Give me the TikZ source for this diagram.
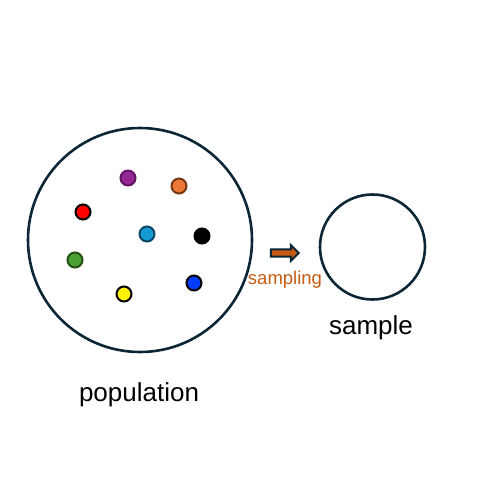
\documentclass[tikz,border=0pt]{standalone}
\usepackage{fontspec}
\setmainfont{Liberation Sans}
\usetikzlibrary{shapes.arrows}
\definecolor{navy}{RGB}{12,38,54}
\definecolor{rust}{RGB}{197,90,17}
\tikzset{
	dot/.style={circle,draw,line width=2pt,minimum size=15pt,inner sep=0pt},
}
\begin{document}
\begin{tikzpicture}[x=1pt,y=-1pt]
	\useasboundingbox (0,0) rectangle (480,480);
	% population and sample
	\node[circle,draw=navy,line width=2.6pt,minimum size=224pt] (pop) at (140,240){};
	\node[circle,draw=navy,line width=2.6pt,minimum size=105pt] (samp) at (372.5,247){};
	\node[font=\fontsize{26}{30}\selectfont] (poplabel) at (139,395){population};
	\node[font=\fontsize{26}{30}\selectfont] (samplabel) at (371,328){sample};
	% members
	\node[dot,fill={rgb,255:red,150;green,40;blue,150},draw={rgb,255:red,100;green,20;blue,100}] (purple) at (128,178){};
	\node[dot,fill={rgb,255:red,235;green,120;blue,55},draw={rgb,255:red,120;green,55;blue,20}] (orange) at (179,186){};
	\node[dot,fill=red,draw=black] (red) at (83,212){};
	\node[dot,fill={rgb,255:red,20;green,155;blue,210},draw={rgb,255:red,10;green,70;blue,100}] (cyan) at (147,234){};
	\node[dot,fill=black,draw=black] (black) at (202,236){};
	\node[dot,fill={rgb,255:red,75;green,160;blue,50},draw={rgb,255:red,35;green,80;blue,20}] (green) at (75,260){};
	\node[dot,fill=yellow,draw=black] (yellow) at (124,294){};
	\node[dot,fill={rgb,255:red,0;green,60;blue,255},draw=black] (blue) at (194,283){};
	% sampling
	\node[single arrow,draw=navy,fill=rust,line width=2pt,minimum height=28pt,minimum width=16pt,single arrow head extend=3pt,inner sep=1.5pt] (arrow) at (283,253){};
	\node[text=rust,font=\fontsize{18.5}{22}\selectfont] (sampling) at (285,280){sampling};
\end{tikzpicture}
\end{document}
